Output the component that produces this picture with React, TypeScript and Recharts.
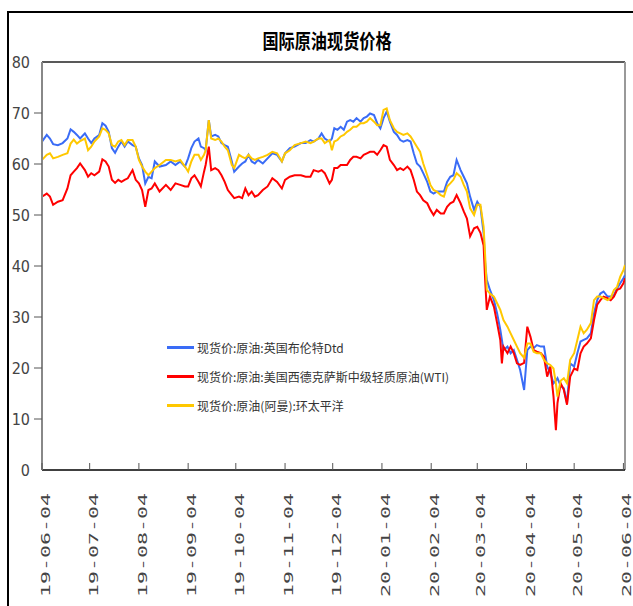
import React from 'react';
import { LineChart, Line, XAxis, YAxis, ReferenceLine, Legend } from 'recharts';

// day offset from 2019-06-04
const days = [
  0, 3, 5, 7, 10, 13, 16, 18, 20, 22, 24, 27, 29, 31, 33, 36, 38, 40, 42, 44, 46, 48, 50, 52, 54, 57, 59, 61, 63, 65, 67, 69, 71, 74, 78, 81, 84, 87, 90, 92,
  94, 96, 98.5, 100, 102, 103, 105, 106.5, 109, 111, 113, 115, 117, 119.5, 121, 124, 126, 128, 130, 132, 134, 136, 139, 142, 145, 148, 151, 153, 156, 159, 163, 166, 169, 171, 174, 176, 178, 181, 182.5, 184,
  186, 188, 190, 192, 194, 196, 198, 200.5, 202.5, 204.5, 206.5, 209, 211, 213, 215, 217, 219, 221.5, 223.5, 225.5, 227.5, 230, 232, 234, 236, 238, 240, 242.5, 244.5, 246.5, 248.5, 251, 253, 255, 257, 259, 261, 263.5, 265.5, 267.5, 269.5, 272, 274,
  276, 278, 279, 280, 282, 284.5, 286.5, 288.5, 289.5, 290.5, 293, 295, 297, 299, 301, 303.5, 305.5, 307.5, 309.5, 311.5, 314, 316, 318, 320, 322, 323.5, 324.5, 326.5, 328.5, 330.5, 332.5, 335, 337, 339, 341, 343, 345.5, 347.5, 349.5, 351.5, 353.5, 356, 358, 360, 362, 364, 366, 367,
];

const brent = [
  64.4, 65.7, 65.0, 63.9, 63.7, 64.1, 65.0, 66.8, 66.3, 65.7, 65.0, 66.0, 65.0, 64.1, 65.0, 65.7, 68.0, 67.5, 66.3, 63.1, 62.2, 63.4, 64.4, 63.4, 64.4, 63.7, 63.4, 61.1, 59.8, 56.2, 57.5, 57.2, 60.5, 59.5, 59.8, 60.5, 59.8, 60.5, 59.5, 61.1,
  63.1, 64.4, 65.0, 63.4, 63.1, 62.7, 68.6, 65.4, 65.7, 65.4, 64.1, 63.7, 63.4, 60.5, 58.5, 59.5, 60.1, 60.5, 61.8, 60.5, 60.1, 60.8, 60.1, 61.1, 62.1, 61.8, 60.5, 62.1, 63.1, 63.4, 64.1, 64.1, 64.7, 64.4, 65.0, 66.0, 65.0, 64.4, 65.0, 67.0,
  66.7, 67.3, 66.7, 68.3, 68.6, 68.3, 69.0, 68.3, 69.0, 69.3, 69.9, 69.6, 68.0, 67.0, 69.0, 70.3, 68.3, 66.3, 65.7, 64.7, 64.4, 64.7, 64.4, 62.1, 60.1, 59.5, 58.2, 56.5, 54.6, 54.2, 54.6, 54.6, 54.6, 56.5, 57.5, 57.8, 60.8, 58.8, 57.5, 56.2, 53.6, 51.0, 52.6,
  51.6, 46.4, 40.5, 37.3, 35.3, 33.3, 30.7, 27.5, 25.5, 23.5, 24.2, 22.9, 23.5, 21.6, 19.6, 15.7, 23.5, 24.2, 23.9, 24.5, 24.2, 24.2, 20.3, 19.0, 17.0, 17.5, 18.0, 16.5, 16.0, 13.1, 20.9, 20.3, 22.9, 25.2, 25.5, 25.8, 26.8, 30.7, 33.3, 34.6, 35.0, 34.0, 34.0, 34.3, 35.6, 36.6, 37.6, 38.2,
];

const wti = [
  53.6, 54.2, 53.6, 52.0, 52.6, 52.9, 55.2, 57.8, 58.5, 59.2, 60.1, 58.8, 57.5, 58.2, 57.8, 58.5, 60.9, 60.5, 59.5, 56.9, 56.3, 56.9, 56.5, 56.9, 57.2, 58.8, 56.9, 56.2, 54.9, 51.6, 54.9, 55.2, 56.2, 54.6, 55.9, 54.9, 56.2, 55.9, 55.6, 55.6,
  57.2, 57.8, 56.5, 55.6, 58.5, 59.8, 63.4, 58.8, 59.2, 58.8, 57.8, 56.5, 54.9, 53.9, 53.3, 53.6, 53.3, 55.2, 53.9, 54.6, 53.6, 53.9, 54.9, 55.6, 57.2, 56.5, 55.2, 56.9, 57.5, 57.8, 57.8, 57.5, 57.5, 58.8, 58.5, 58.8, 58.2, 56.2, 56.9, 59.2,
  59.2, 59.8, 59.8, 59.8, 60.8, 61.4, 61.4, 61.1, 61.8, 62.1, 62.4, 62.4, 61.8, 62.7, 63.7, 63.4, 60.8, 59.8, 58.8, 59.2, 58.8, 59.5, 58.8, 56.9, 54.6, 53.9, 52.9, 52.3, 51.0, 50.0, 51.0, 50.3, 50.3, 51.6, 52.3, 52.6, 53.9, 52.3, 50.7, 49.3, 45.8, 47.4, 47.7,
  46.5, 44.0, 37.0, 31.4, 34.0, 32.0, 28.8, 25.5, 20.9, 24.2, 22.9, 24.2, 22.9, 20.9, 20.6, 21.0, 28.1, 26.1, 23.5, 23.2, 22.9, 22.2, 18.3, 20.3, 14.4, 7.8, 13.1, 17.0, 15.7, 12.8, 18.3, 19.9, 19.6, 22.9, 24.2, 24.8, 25.8, 29.4, 32.4, 33.3, 34.0, 33.7, 33.3, 34.0, 35.3, 35.6, 36.6, 37.6,
];

const oman = [
  60.8, 61.8, 62.1, 61.1, 61.4, 61.8, 62.1, 64.0, 64.8, 64.0, 64.5, 65.0, 62.7, 63.4, 64.4, 65.4, 67.0, 66.7, 66.0, 63.7, 63.4, 64.4, 64.7, 63.7, 64.7, 64.7, 63.4, 60.8, 59.5, 58.5, 57.8, 58.5, 59.2, 59.8, 60.8, 60.8, 60.5, 60.8, 59.5, 58.5,
  60.5, 61.8, 61.8, 60.8, 61.8, 62.7, 68.6, 65.0, 64.7, 65.0, 64.4, 63.4, 62.7, 59.8, 59.2, 61.8, 61.4, 61.1, 61.8, 61.1, 60.8, 61.1, 61.4, 61.8, 62.4, 62.1, 60.5, 62.1, 62.7, 63.7, 64.1, 64.4, 64.1, 64.4, 65.0, 65.0, 64.1, 64.7, 62.7, 64.4,
  64.7, 65.4, 65.7, 66.3, 66.7, 67.3, 67.3, 68.0, 68.0, 68.3, 69.0, 68.3, 67.6, 67.6, 70.6, 70.9, 68.6, 67.0, 66.3, 66.0, 65.7, 66.0, 65.4, 64.4, 63.4, 62.4, 60.1, 57.8, 55.9, 54.9, 54.6, 53.9, 53.6, 55.6, 56.2, 56.9, 58.2, 57.5, 55.9, 54.6, 51.3, 50.0, 52.0,
  52.0, 47.7, 41.8, 35.3, 34.6, 34.0, 32.7, 31.4, 30.4, 29.4, 28.1, 26.8, 25.5, 24.2, 22.9, 22.0, 24.8, 24.8, 23.2, 22.9, 22.9, 21.6, 20.9, 20.6, 19.9, 17.0, 14.4, 17.5, 18.0, 17.0, 21.6, 22.9, 25.5, 28.1, 26.8, 27.5, 28.8, 33.3, 34.0, 34.0, 33.7, 33.3, 33.7, 35.3, 35.9, 37.9, 39.2, 40.2,
];

const xTickDays = [0, 30, 61, 92, 122, 153, 183, 214, 245, 274, 305, 335, 366];
const xTickLabels = ['19-06-04', '19-07-04', '19-08-04', '19-09-04', '19-10-04', '19-11-04', '19-12-04', '20-01-04', '20-02-04', '20-03-04', '20-04-04', '20-05-04', '20-06-04'];
const yTicks = [0, 10, 20, 30, 40, 50, 60, 70, 80];

const title = '国际原油现货价格';
const seriesNames = ['现货价:原油:英国布伦特Dtd', '现货价:原油:美国西德克萨斯中级轻质原油(WTI)', '现货价:原油(阿曼):环太平洋'];
const seriesColors = ['#3a6cf6', '#ff0000', '#ffc800'];

const data = days.map((d, i) => ({ day: d, brent: brent[i], wti: wti[i], oman: oman[i] }));

const XTick = (props: any) => {
  const { x, y, payload } = props;
  const idx = xTickDays.indexOf(payload.value);
  const label = idx >= 0 ? xTickLabels[idx] : '';
  return (
    <g>
      <line x1={x} x2={x} y1={y - 7} y2={y} stroke="#555" strokeWidth={1} />
      <text
        transform={`translate(${x + 8},${y + 127}) rotate(-90)`}
        textAnchor="start"
        fontFamily="'DejaVu Sans Mono', monospace"
        fontSize={13}
        textLength={104}
        lengthAdjust="spacingAndGlyphs"
        fill="#444"
      >
        {label}
      </text>
    </g>
  );
};

const YTick = (props: any) => {
  const { x, y, payload } = props;
  const v = payload.value;
  return (
    <g>
      {v > 0 && v < 80 ? <line x1={34} x2={42} y1={y} y2={y} stroke="#555" strokeWidth={1} /> : null}
      <text x={x} y={y} dy={6} textAnchor="end" fontFamily="'Liberation Sans Narrow', 'DejaVu Sans Condensed', sans-serif" fontSize={16} fill="#444">
        {v}
      </text>
    </g>
  );
};

const LegendContent = (props: any) => {
  const items = [...(props.payload || [])].sort(
    (a: any, b: any) => seriesNames.indexOf(a.value) - seriesNames.indexOf(b.value)
  );
  return (
    <div>
      {items.map((p: any, i: number) => (
        <div key={i} style={{ display: 'flex', alignItems: 'center', height: 29 }}>
          <span style={{ display: 'inline-block', width: 27, height: 2.5, background: p.color, marginRight: 3 }} />
          <span style={{ fontSize: 12, color: '#333', fontFamily: "'Noto Sans CJK SC', sans-serif", whiteSpace: 'nowrap', lineHeight: '14px' }}>{p.value}</span>
        </div>
      ))}
    </div>
  );
};

export default function App() {
  return (
    <div style={{ position: 'absolute', left: 0, top: 0, width: 633, height: 606, overflow: 'hidden', background: '#fff' }}>
      <div style={{ position: 'absolute', left: 7, top: 11, width: 700, height: 700, borderLeft: '2px solid #000', borderTop: '2px solid #000' }} />
      <div
        style={{
          position: 'absolute',
          left: 0,
          top: 30,
          width: 654,
          textAlign: 'center',
          fontFamily: "'Noto Sans CJK SC', sans-serif",
          fontWeight: 'bold',
          fontSize: 17,
          lineHeight: '22px',
          color: '#000',
          transform: 'scale(0.95, 1.2)',
          transformOrigin: '327px 11px',
        }}
      >
        {title}
      </div>
      <div style={{ position: 'absolute', left: 0, top: 0 }}>
        <LineChart width={633} height={606} data={data} margin={{ top: 62, right: 8, bottom: 6, left: 0 }}>
          <XAxis
            dataKey="day"
            type="number"
            domain={[0, 367]}
            ticks={xTickDays}
            interval={0}
            tick={<XTick />}
            tickLine={false}
            tickSize={0}
            tickMargin={0}
            height={130}
            axisLine={{ stroke: '#000', strokeWidth: 1.5 }}
            allowDataOverflow
          />
          <YAxis
            type="number"
            domain={[0, 80]}
            ticks={yTicks}
            interval={0}
            width={42}
            tick={<YTick />}
            tickLine={false}
            tickSize={8}
            tickMargin={4}
            axisLine={{ stroke: '#888', strokeWidth: 2 }}
          />
          <ReferenceLine y={80} stroke="#222" strokeWidth={1.5} />
          <ReferenceLine x={367} stroke="#999" strokeWidth={2} />
          <Legend
            layout="vertical"
            align="center"
            verticalAlign="middle"
            content={<LegendContent />}
            wrapperStyle={{ position: 'absolute', left: 167, top: 333, width: 320 }}
          />
          <Line type="linear" dataKey="brent" name={seriesNames[0]} stroke={seriesColors[0]} strokeWidth={2} dot={false} isAnimationActive={false} />
          <Line type="linear" dataKey="wti" name={seriesNames[1]} stroke={seriesColors[1]} strokeWidth={2} dot={false} isAnimationActive={false} />
          <Line type="linear" dataKey="oman" name={seriesNames[2]} stroke={seriesColors[2]} strokeWidth={2} dot={false} isAnimationActive={false} />
        </LineChart>
      </div>
    </div>
  );
}
